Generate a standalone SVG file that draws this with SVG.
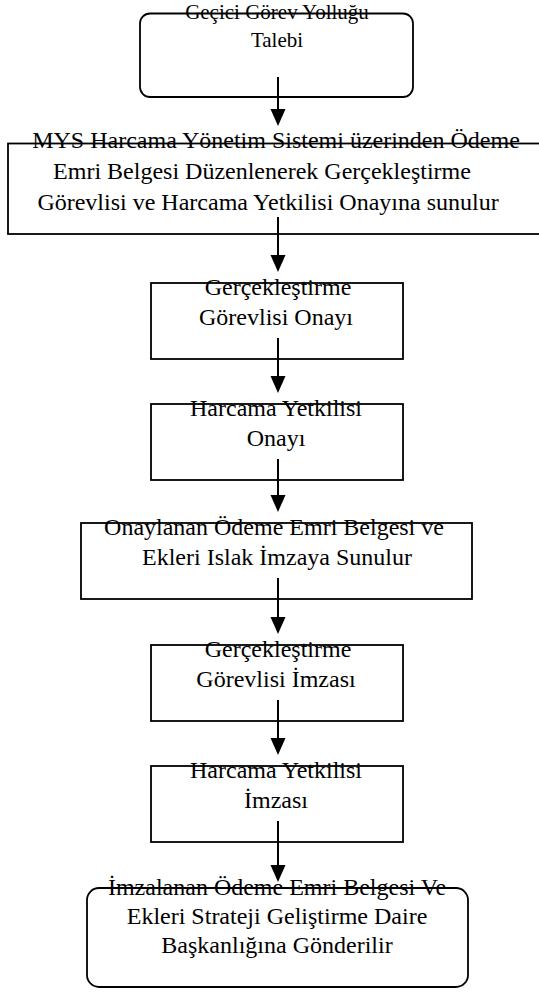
<svg xmlns="http://www.w3.org/2000/svg" width="539" height="995" viewBox="0 0 539 995">
<style>
.box{fill:#fff;stroke:#000;stroke-width:1.8}
.t{font-family:"Liberation Serif","Times New Roman",serif;font-size:24px;fill:#000;text-anchor:middle}
.t1{font-size:21px}
.ln{stroke:#000;stroke-width:2;fill:none}
</style>
<defs>
<marker id="ah" markerWidth="15" markerHeight="17" refX="7.5" refY="17" orient="auto-start-reverse" markerUnits="userSpaceOnUse" viewBox="0 0 15 17">
<path d="M0,0 L15,0 L7.5,17 Z" fill="#000" transform="rotate(0)"/>
</marker>
</defs>
<g id="n1"><rect class="box" x="140" y="13.5" width="273" height="83.5" rx="10"/>
<text class="t t1" x="277" y="19">Geçici Görev Yolluğu</text>
<text class="t t1" x="277" y="47">Talebi</text></g>
<g id="n2"><rect class="box" x="8" y="143.5" width="538" height="90.5"/>
<text class="t" x="276" y="148">MYS Harcama Yönetim Sistemi üzerinden Ödeme</text>
<text class="t" x="262" y="179">Emri Belgesi Düzenlenerek Gerçekleştirme</text>
<text class="t" x="268" y="210">Görevlisi ve Harcama Yetkilisi Onayına sunulur</text></g>
<g id="n3"><rect class="box" x="151" y="283" width="252" height="76"/>
<text class="t" x="278" y="295">Gerçekleştirme</text>
<text class="t" x="276" y="325">Görevlisi Onayı</text></g>
<g id="n4"><rect class="box" x="151" y="404" width="252" height="76"/>
<text class="t" x="276" y="416">Harcama Yetkilisi</text>
<text class="t" x="276" y="446">Onayı</text></g>
<g id="n5"><rect class="box" x="81" y="523" width="391" height="76"/>
<text class="t" x="274" y="535">Onaylanan Ödeme Emri Belgesi ve</text>
<text class="t" x="277" y="565">Ekleri Islak İmzaya Sunulur</text></g>
<g id="n6"><rect class="box" x="151" y="645" width="252" height="76"/>
<text class="t" x="278" y="657">Gerçekleştirme</text>
<text class="t" x="276" y="687">Görevlisi İmzası</text></g>
<g id="n7"><rect class="box" x="151" y="766" width="252" height="76"/>
<text class="t" x="276" y="778">Harcama Yetkilisi</text>
<text class="t" x="276" y="808">İmzası</text></g>
<g id="n8"><rect class="box" x="87" y="888" width="381" height="99" rx="12"/>
<text class="t" x="277" y="895">İmzalanan Ödeme Emri Belgesi Ve</text>
<text class="t" x="277" y="924">Ekleri Strateji Geliştirme Daire</text>
<text class="t" x="277" y="953">Başkanlığına Gönderilir</text></g>
<g id="connectors">
<path class="ln" d="M278,77 V115"/><path d="M270.5,109 H285.5 L278,126 Z"/>
<path class="ln" d="M278,217 V261"/><path d="M270.5,255 H285.5 L278,272 Z"/>
<path class="ln" d="M278,338 V382"/><path d="M270.5,376 H285.5 L278,393 Z"/>
<path class="ln" d="M278,459 V501"/><path d="M270.5,495 H285.5 L278,512 Z"/>
<path class="ln" d="M278,578 V623"/><path d="M270.5,617 H285.5 L278,634 Z"/>
<path class="ln" d="M278,700 V744"/><path d="M270.5,738 H285.5 L278,755 Z"/>
<path class="ln" d="M278,821 V871"/><path d="M270.5,865 H285.5 L278,882 Z"/>
</g>
</svg>
